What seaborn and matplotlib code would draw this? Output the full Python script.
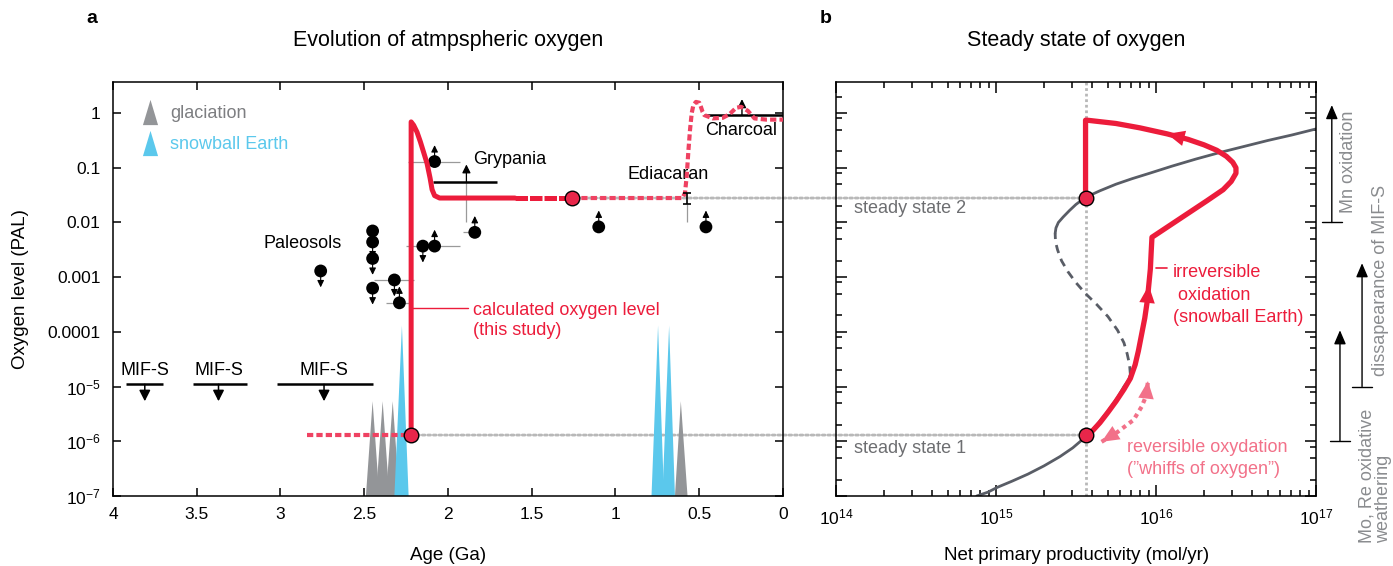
import numpy as np
import matplotlib
matplotlib.use("Agg")
import matplotlib.pyplot as plt
import matplotlib.transforms as mtransforms
from matplotlib.patches import ConnectionPatch
from matplotlib.ticker import (FixedLocator, FixedFormatter, LogLocator,
                               LogFormatterMathtext, NullFormatter, NullLocator)
import seaborn as sns

# ---------------- panel a data (age in Ga, oxygen in PAL) ----------------
# calculated oxygen level
pre_age = [2.84, 2.25]
pre_o2 = [1.3e-6, 1.3e-6]
calc_age = [2.22, 2.22, 2.205, 2.185, 2.165, 2.145, 2.125, 2.107, 2.095, 2.08, 2.05, 1.6]
calc_o2 = [1.3e-6, 0.69, 0.6, 0.45, 0.3, 0.19, 0.12, 0.065, 0.04, 0.031, 0.028, 0.028]
dash_age = [1.6, 1.26]
dash_o2 = [0.028, 0.028]
late_age = [1.26, 0.6, 0.585, 0.575, 0.565, 0.555, 0.545, 0.535, 0.52, 0.5, 0.49,
            0.48, 0.47, 0.42, 0.36, 0.32, 0.28, 0.25, 0.21, 0.17, 0.1, 0.0]
late_o2 = [0.028, 0.028, 0.035, 0.07, 0.2, 0.5, 1.0, 1.4, 1.6, 1.55, 1.3,
           1.05, 0.92, 0.8, 0.82, 0.95, 1.25, 1.3, 1.1, 0.8, 0.76, 0.76]
circle_age = [2.22, 1.26]
circle_o2 = [1.3e-6, 0.028]

# proxy data points
pt_age = [2.76, 2.45, 2.45, 2.45, 2.45, 2.32, 2.29, 2.08, 2.15, 2.08, 1.84, 1.10, 0.46]
pt_o2 = [1.3e-3, 7e-3, 4.4e-3, 2.2e-3, 6.3e-4, 8.9e-4, 3.4e-4, 0.13, 3.7e-3, 3.7e-3,
         6.6e-3, 8.3e-3, 8.3e-3]
pt_dir = [-1, -1, -1, -1, -1, -1, 1, 1, -1, 1, 1, 1, 1]
err_o2 = [8.9e-4, 3.4e-4, 0.13, 3.7e-3, 6.6e-3]
err_old = [2.44, 2.37, 2.24, 2.25, 1.91]
err_young = [2.20, 2.22, 1.93, 1.93, 1.84]

# MIF-S upper limits
mif_old = [3.92, 3.52, 3.02]
mif_young = [3.70, 3.20, 2.45]
mif_mid = [3.81, 3.37, 2.74]
mif_level = 1.1e-5
mif_tip = 5.4e-6

# Grypania, Ediacaran, Charcoal
gryp_old, gryp_young, gryp_level = 2.09, 1.71, 0.055
gryp_age, gryp_base, gryp_tip = 1.89, 0.01, 0.115
edia_age, edia_base, edia_lo, edia_mid, edia_hi = 0.575, 0.01, 0.022, 0.028, 0.035
char_old, char_young, char_level = 0.47, 0.0, 0.92
char_age, char_tip = 0.245, 1.8

# glaciations (gray) and snowball Earth (cyan)
glac_old = [2.49, 2.43, 2.37, 0.645]
glac_peak_age = [2.45, 2.39, 2.33, 0.61]
glac_young = [2.41, 2.35, 2.29, 0.57]
glac_peak = 5.4e-6
snow_old = [2.32, 0.785, 0.72]
snow_peak_age = [2.275, 0.746, 0.68]
snow_young = [2.235, 0.71, 0.645]
snow_peak = 1.3e-4

# ---------------- panel b data (log10 NPP in mol/yr, log10 oxygen in PAL) ----------------
lnpp_low = [14.88, 14.95, 15.01, 15.1, 15.2, 15.3, 15.4, 15.48, 15.56, 15.63, 15.7, 15.76, 15.8, 15.83, 15.84]
lo2_low = [-7.0, -6.93, -6.84, -6.73, -6.6, -6.45, -6.28, -6.12, -5.92, -5.7, -5.45, -5.2, -5.0, -4.88, -4.78]
lnpp_mid = [15.84, 15.835, 15.82, 15.8, 15.76, 15.7, 15.63, 15.56, 15.5, 15.45, 15.41, 15.385, 15.372, 15.37]
lo2_mid = [-4.78, -4.6, -4.4, -4.2, -3.97, -3.72, -3.5, -3.3, -3.1, -2.9, -2.7, -2.5, -2.35, -2.2]
lnpp_high = [15.37, 15.375, 15.39, 15.42, 15.46, 15.5, 15.56, 15.65, 15.75, 15.85, 15.96, 16.1,
             16.25, 16.4, 16.55, 16.7, 16.85, 17.0]
lo2_high = [-2.2, -2.1, -2.0, -1.9, -1.78, -1.67, -1.54, -1.42, -1.3, -1.2, -1.1, -0.97,
            -0.84, -0.72, -0.61, -0.5, -0.4, -0.29]
lnpp_path = [15.56, 15.6, 15.65, 15.7, 15.75, 15.8, 15.84, 15.87, 15.89, 15.91, 15.93, 15.945,
             15.955, 15.965, 15.97, 15.975, 16.32, 16.42, 16.47, 16.5, 16.5, 16.48, 16.44, 16.38,
             16.3, 16.2, 16.07, 15.9, 15.75, 15.57, 15.56, 15.56]
lo2_path = [-5.92, -5.82, -5.66, -5.47, -5.27, -5.05, -4.85, -4.6, -4.35, -4.05, -3.75, -3.45,
            -3.15, -2.85, -2.55, -2.27, -1.6, -1.4, -1.25, -1.1, -1.0, -0.9, -0.79, -0.68,
            -0.58, -0.48, -0.38, -0.27, -0.19, -0.13, -0.13, -1.54]
lnpp_whiff = [15.66, 15.76, 15.86, 15.91, 15.94, 15.95]
lo2_whiff = [-6.01, -5.83, -5.61, -5.37, -5.16, -4.9]
ss_npp = 3.65e15
ss_o2 = [1.3e-6, 0.028]

npp_low, o2_low = 10 ** np.array(lnpp_low), 10 ** np.array(lo2_low)
npp_mid, o2_mid = 10 ** np.array(lnpp_mid), 10 ** np.array(lo2_mid)
npp_high, o2_high = 10 ** np.array(lnpp_high), 10 ** np.array(lo2_high)
path_npp, path_o2 = 10 ** np.array(lnpp_path), 10 ** np.array(lo2_path)
whiff_npp, whiff_o2 = 10 ** np.array(lnpp_whiff), 10 ** np.array(lo2_whiff)

age_ticks = [4, 3.5, 3, 2.5, 2, 1.5, 1, 0.5, 0]
o2_ticks = [1e-7, 1e-6, 1e-5, 1e-4, 1e-3, 1e-2, 1e-1, 1]
o2_labels = ["$10^{-7}$", "$10^{-6}$", "$10^{-5}$", "0.0001", "0.001", "0.01", "0.1", "1"]

# ---------------- style ----------------
sns.set_theme(style="ticks")
plt.rcParams["font.family"] = ["Liberation Sans", "DejaVu Sans"]
plt.rcParams["mathtext.fontset"] = "custom"
plt.rcParams["mathtext.rm"] = "Liberation Sans"
plt.rcParams["mathtext.it"] = "Liberation Sans:italic"
plt.rcParams["axes.linewidth"] = 1.1
for k in ["text.color", "axes.labelcolor", "xtick.color", "ytick.color", "axes.edgecolor"]:
    plt.rcParams[k] = "black"

RED = "#ec1c3b"
RED_DOT = "#ef4262"
PINK = "#f27189"
CYAN = "#5bc8ec"
GRAY_TRI = "#939598"
CURVE = "#595d66"
TXT_GRAY = "#6d6e71"
DOT_GRAY = "#b8b8b8"
RED_DASH = (0, (1.5, 0.75))

fig = plt.figure(figsize=(13.93, 5.66), dpi=100)
ax1 = fig.add_axes([0.0811, 0.1237, 0.481, 0.7314])
ax2 = fig.add_axes([0.6001, 0.1237, 0.3446, 0.7314])
for ax in (ax1, ax2):
    ax.set_facecolor("none")
    ax.set_yscale("log")
    ax.set_ylim(1e-7, 3.7)

# ---------------- panel a ----------------
ax1.set_xlim(4, 0)
for lo, pk, hi in zip(glac_old, glac_peak_age, glac_young):
    ax1.fill([lo, pk, hi], [1e-7, glac_peak, 1e-7], color=GRAY_TRI, lw=0, zorder=1)
for lo, pk, hi in zip(snow_old, snow_peak_age, snow_young):
    ax1.fill([lo, pk, hi], [1e-7, snow_peak, 1e-7], color=CYAN, lw=0, zorder=1.1)

# gray horizontal age ranges
ax1.hlines(err_o2, err_old, err_young, color="#9a9a9a", lw=0.9, zorder=2)

# arrows on proxy points
for a, o, d in zip(pt_age, pt_o2, pt_dir):
    ax1.annotate("", xy=(a, o * 10 ** (0.3 * d)), xytext=(a, o),
                 arrowprops=dict(arrowstyle="-|>,head_length=0.45,head_width=0.22",
                                 color="black", lw=0.8, mutation_scale=9, shrinkA=0, shrinkB=0),
                 zorder=3)
sns.scatterplot(x=pt_age, y=pt_o2, ax=ax1, s=85, color="black", edgecolor="none", zorder=4)

# MIF-S
ax1.hlines([mif_level] * 3, mif_old, mif_young, color="black", lw=1.8, zorder=3)
for m in mif_mid:
    ax1.annotate("", xy=(m, mif_tip), xytext=(m, mif_level),
                 arrowprops=dict(arrowstyle="-|>,head_length=0.55,head_width=0.28",
                                 color="black", lw=1.1, mutation_scale=12, shrinkA=0, shrinkB=0))
    ax1.text(m, 2.0e-5, "MIF-S", ha="center", va="center", fontsize=13)

# Grypania
ax1.hlines(gryp_level, gryp_old, gryp_young, color="black", lw=1.8, zorder=3)
ax1.vlines(gryp_age, gryp_base, gryp_level, color="#9a9a9a", lw=0.9)
ax1.annotate("", xy=(gryp_age, gryp_tip), xytext=(gryp_age, gryp_level),
             arrowprops=dict(arrowstyle="-|>,head_length=0.5,head_width=0.25",
                             color="black", lw=0.9, mutation_scale=10, shrinkA=0, shrinkB=0))
ax1.text(1.85, 0.14, "Grypania", ha="left", va="center", fontsize=13)

# Ediacaran
ax1.vlines(edia_age, edia_base, edia_lo, color="#9a9a9a", lw=0.9)
ax1.errorbar([edia_age], [edia_mid], yerr=[[edia_mid - edia_lo], [edia_hi - edia_mid]],
             fmt="none", ecolor="black", elinewidth=1.2, capsize=3, capthick=1.2, zorder=6)
ax1.text(0.93, 0.074, "Ediacaran", ha="left", va="center", fontsize=13)

# Charcoal
ax1.hlines(char_level, char_old, char_young, color="black", lw=1.8, zorder=3)
ax1.annotate("", xy=(char_age, char_tip), xytext=(char_age, char_level),
             arrowprops=dict(arrowstyle="-|>,head_length=0.5,head_width=0.25",
                             color="black", lw=1.0, mutation_scale=10, shrinkA=0, shrinkB=0))
ax1.text(0.465, 0.49, "Charcoal", ha="left", va="center", fontsize=13)
ax1.text(2.87, 4.2e-3, "Paleosols", ha="center", va="center", fontsize=13)

# calculated oxygen
ax1.plot(pre_age, pre_o2, color=RED_DOT, lw=3, ls=RED_DASH, solid_capstyle="butt", zorder=5)
sns.lineplot(x=calc_age, y=calc_o2, ax=ax1, sort=False, estimator=None, color=RED, lw=3.6, zorder=5)
ax1.plot(dash_age, dash_o2, color=RED, lw=3.6, ls=(0, (2.5, 0.4)), zorder=5)
ax1.plot(late_age, late_o2, color=RED_DOT, lw=3, ls=RED_DASH, zorder=5)
ax1.scatter(circle_age, circle_o2, s=110, color="#e8264a", edgecolor="black", lw=1, zorder=7)
ax1.plot([2.22, 1.88], [2.7e-4, 2.7e-4], color=RED, lw=1, zorder=5)
ax1.text(1.85, 1.6e-4, "calculated oxygen level\n(this study)", color=RED, ha="left",
         va="center", fontsize=13)

# legend
tri = [(-0.3, -0.5), (0.3, -0.5), (0.0, 0.5)]
ax1.scatter([0.055], [0.928], marker=tri, s=330, color=GRAY_TRI, lw=0, transform=ax1.transAxes)
ax1.scatter([0.055], [0.853], marker=tri, s=330, color=CYAN, lw=0, transform=ax1.transAxes)
ax1.text(0.085, 0.925, "glaciation", color="#7d7e81", fontsize=13, va="center", transform=ax1.transAxes)
ax1.text(0.085, 0.848, "snowball Earth", color=CYAN, fontsize=13, va="center", transform=ax1.transAxes)

ax1.xaxis.set_major_locator(FixedLocator(age_ticks))
ax1.xaxis.set_major_formatter(FixedFormatter([f"{t:g}" for t in age_ticks]))
ax1.yaxis.set_major_locator(FixedLocator(o2_ticks))
ax1.yaxis.set_major_formatter(FixedFormatter(o2_labels))
ax1.yaxis.set_minor_locator(NullLocator())
ax1.tick_params(which="major", direction="in", length=6, width=1.1, top=True, right=True,
                labelsize=12.5)
ax1.tick_params(axis="x", pad=8)
ax1.tick_params(axis="y", pad=9)

# ---------------- panel b ----------------
ax2.set_xscale("log")
ax2.set_xlim(1e14, 1e17)
ax2.axvline(ss_npp, color=DOT_GRAY, lw=2, ls=(0, (1, 1)), zorder=1)
sns.lineplot(x=npp_low, y=o2_low, ax=ax2, sort=False, estimator=None, color=CURVE, lw=2, zorder=2)
sns.lineplot(x=npp_mid, y=o2_mid, ax=ax2, sort=False, estimator=None, color=CURVE, lw=2,
             ls=(0, (3, 2.2)), zorder=2)
sns.lineplot(x=npp_high, y=o2_high, ax=ax2, sort=False, estimator=None, color=CURVE, lw=2, zorder=2)
sns.lineplot(x=path_npp, y=path_o2, ax=ax2, sort=False, estimator=None, color=RED, lw=3.8, zorder=4)
ax2.plot(whiff_npp, whiff_o2, color=PINK, lw=3, ls=(0, (1, 1)), zorder=3)
for (x0, y0), (x1, y1), col in [((whiff_npp[1], whiff_o2[1]), (whiff_npp[0], whiff_o2[0]), PINK),
                                ((whiff_npp[-2], whiff_o2[-2]), (whiff_npp[-1], whiff_o2[-1]), PINK),
                                ((path_npp[11], path_o2[11]), (path_npp[12], path_o2[12]), RED),
                                ((path_npp[25], path_o2[25]), (path_npp[26], path_o2[26]), RED)]:
    ax2.annotate("", xy=(x1, y1), xytext=(x0, y0),
                 arrowprops=dict(arrowstyle="-|>,head_length=0.9,head_width=0.4", color=col,
                                 lw=0, mutation_scale=14, shrinkA=0, shrinkB=0), zorder=5)
ax2.scatter([ss_npp, ss_npp], ss_o2, s=110, color="#e8264a", edgecolor="black", lw=1, zorder=7)

ax2.text(1.3e14, 0.018, "steady state 2", color=TXT_GRAY, fontsize=13, va="center")
ax2.text(1.3e14, 7.5e-7, "steady state 1", color=TXT_GRAY, fontsize=13, va="center")
ax2.plot([1.0e16, 1.17e16], [1.47e-3, 1.47e-3], color=RED, lw=1.2)
ax2.text(1.28e16, 4.7e-4, "irreversible\n oxidation\n(snowball Earth)", color=RED, fontsize=13,
         ha="left", va="center", linespacing=1.45)
ax2.text(6.6e15, 4.9e-7, "reversible oxydation\n(\u201dwhiffs of oxygen\u201d)", color=PINK,
         fontsize=13, ha="left", va="center", linespacing=1.35)

ax2.xaxis.set_major_locator(LogLocator(base=10, numticks=10))
ax2.xaxis.set_major_formatter(LogFormatterMathtext())
ax2.xaxis.set_minor_locator(LogLocator(base=10, subs=np.arange(2, 10), numticks=20))
ax2.xaxis.set_minor_formatter(NullFormatter())
ax2.yaxis.set_major_locator(FixedLocator(o2_ticks))
ax2.yaxis.set_minor_locator(LogLocator(base=10, subs=(2, 5, 8), numticks=20))
ax2.yaxis.set_major_formatter(NullFormatter())
ax2.yaxis.set_minor_formatter(NullFormatter())
ax2.tick_params(which="both", direction="in", top=True, right=True, width=1.1)
ax2.tick_params(which="major", length=8, labelsize=12.5)
ax2.tick_params(which="minor", length=4.5)
ax2.tick_params(axis="x", pad=8)

# side bars with arrows
trans = mtransforms.blended_transform_factory(ax2.transAxes, ax2.transData)
side = [(1.033, 0.01, 1.4, 1.0125, 1.054), (1.096, 1e-5, 1.8e-3, 1.075, 1.117),
        (1.05, 1e-6, 1.07e-4, 1.029, 1.071)]
for x, y0, y1, b0, b1 in side:
    ax2.annotate("", xy=(x, y1), xytext=(x, y0), xycoords=trans, textcoords=trans,
                 arrowprops=dict(arrowstyle="-|>,head_length=0.7,head_width=0.3", color="black",
                                 lw=1, mutation_scale=12, shrinkA=0, shrinkB=0))
    ax2.plot([b0, b1], [y0, y0], color="black", lw=1, transform=trans, clip_on=False)
ax2.text(1.067, 0.126, "Mn oxidation", rotation=90, color="#8a8c8f", fontsize=13,
         ha="center", va="center", transform=trans)
ax2.text(1.135, 8.9e-4, "dissapearance of MIF-S", rotation=90, color="#8a8c8f", fontsize=13,
         ha="center", va="center", transform=trans)
ax2.text(1.123, 1.4e-8, "Mo, Re oxidative\nweathering", rotation=90, color="#8a8c8f", fontsize=13,
         ha="center", va="bottom", multialignment="left", transform=trans, linespacing=1.0)

# dotted links between panels
for (a, o) in zip(circle_age, circle_o2):
    con = ConnectionPatch(xyA=(a, o), coordsA=ax1.transData, xyB=(ss_npp, o), coordsB=ax2.transData,
                          color=DOT_GRAY, lw=2, ls=(0, (1, 1)), zorder=-1)
    fig.add_artist(con)

# titles and labels
fig.text(0.066, 0.967, "a", fontsize=14, fontweight="bold", ha="center", va="center")
fig.text(0.593, 0.967, "b", fontsize=14, fontweight="bold", ha="center", va="center")
fig.text(0.3216, 0.929, "Evolution of atmpspheric oxygen", fontsize=15.5, ha="center", va="center")
fig.text(0.7725, 0.929, "Steady state of oxygen", fontsize=15.5, ha="center", va="center")
fig.text(0.3216, 0.019, "Age (Ga)", fontsize=13.5, ha="center", va="center")
fig.text(0.7725, 0.019, "Net primary productivity (mol/yr)", fontsize=13.5, ha="center", va="center")
fig.text(0.0144, 0.489, "Oxygen level (PAL)", fontsize=13.5, rotation=90, ha="center", va="center",
         family=["Liberation Sans Narrow", "Liberation Sans"])

fig.savefig("out.png", dpi=100, facecolor="white")
